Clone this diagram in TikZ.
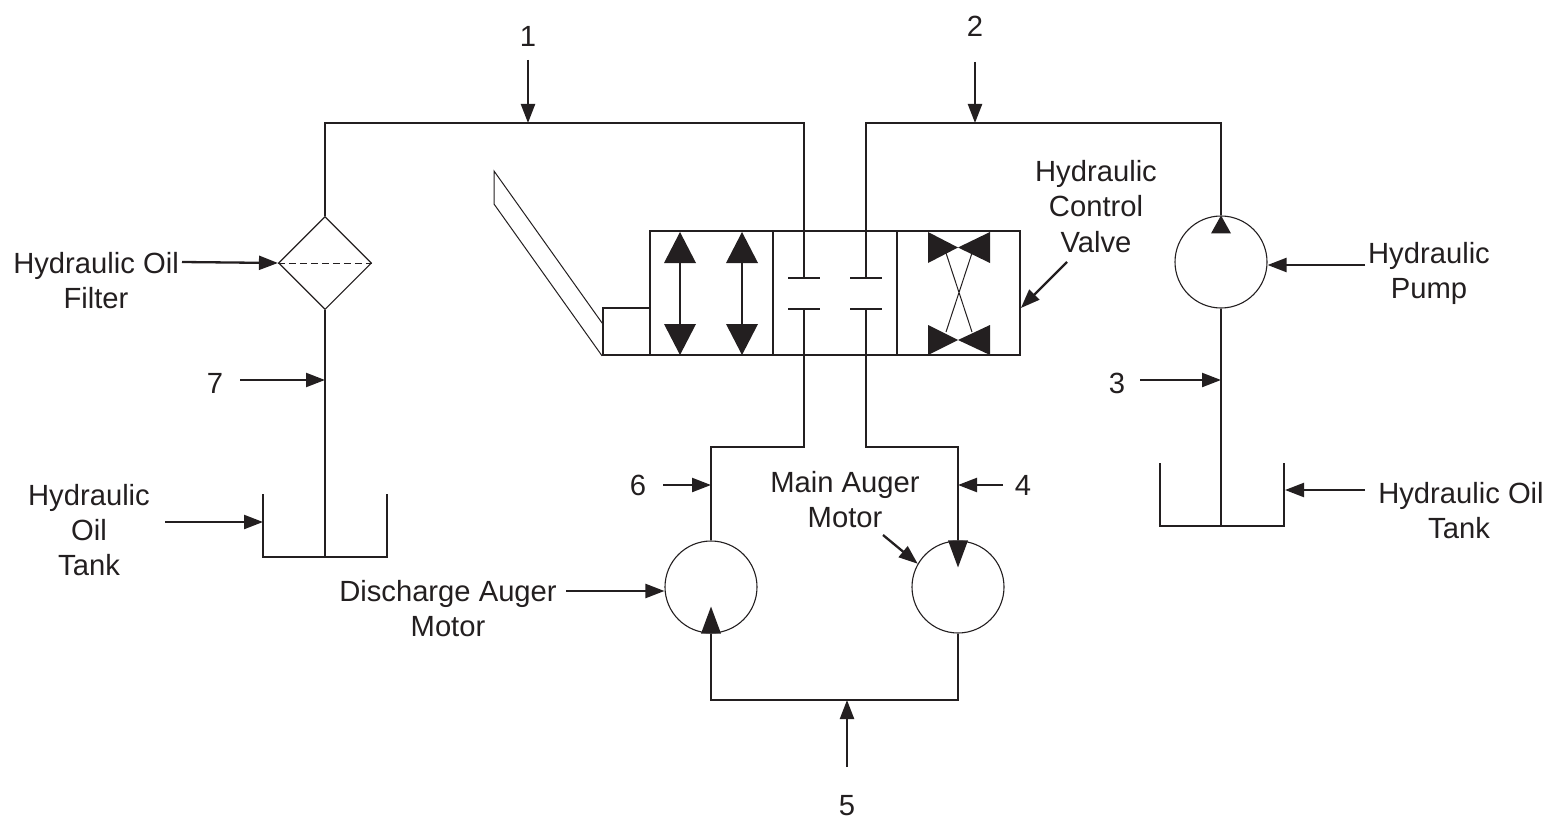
\documentclass[tikz,border=0pt]{standalone}
\usepackage{fontspec}
\setmainfont{Liberation Sans}
\usetikzlibrary{arrows.meta,shapes.geometric}
\definecolor{ink}{HTML}{231F20}
\begin{document}
\begin{tikzpicture}[x=1pt,y=-1pt,
  pipe/.style={draw=ink,line width=1.8pt},
  thinline/.style={draw=ink,line width=1pt},
  callout/.style={draw=ink,line width=2.3pt,-{Triangle[length=19pt,width=14pt]}},
  lbl/.style={text=ink,font=\fontsize{29.2}{34}\selectfont,inner sep=0pt,anchor=base},
  unit/.style={circle,draw=ink,line width=1.1pt,minimum size=92pt,inner sep=0pt},
]
\useasboundingbox (0,0) rectangle (1544,821);

% ---------- components ----------
\node[diamond,draw=ink,line width=1.1pt,minimum width=93pt,minimum height=93pt,inner sep=0pt,aspect=1] (filter) at (325,263) {};
\draw[ink,line width=1pt,dash pattern=on 7pt off 4pt] (filter.west) -- (filter.east);

\node[unit] (pump) at (1221,262) {};
\node[unit] (dmotor) at (711,587) {};
\node[unit] (mmotor) at (958,587) {};

\fill[ink] (pump.north) -- ++(-10,18) -- ++(20,0) -- cycle;
\fill[ink] (dmotor.south) ++(-10,0) -- ++(20,0) -- ++(-10,-27) -- cycle;
\fill[ink] (mmotor.north) ++(-10,0) -- ++(20,0) -- ++(-10,27) -- cycle;

% valve
\node[draw=ink,line width=1.8pt,minimum width=370pt,minimum height=124pt,inner sep=0pt] (valve) at (835,293) {};
\draw[pipe] (773,231) -- (773,355);
\draw[pipe] (897,231) -- (897,355);
\node[draw=ink,line width=1.8pt,minimum width=47pt,minimum height=47pt,inner sep=0pt] (actuator) at (626.5,331.5) {};
\draw[thinline] (actuator.north west |- 0,323) -- (494,171) -- (494,204) -- (actuator.south west);

% valve block 1: double arrows
\foreach \x in {680,742}{
  \fill[ink] (\x,232) -- (\x-16,263) -- (\x+16,263) -- cycle;
  \fill[ink] (\x,355) -- (\x-16,324) -- (\x+16,324) -- cycle;
  \draw[pipe] (\x,262) -- (\x,325);
}
% valve block 2: blocked ports
\coordinate (p1u) at (804,278);
\coordinate (p1l) at (804,309);
\coordinate (p2u) at (866,278);
\coordinate (p2l) at (866,309);
\draw[pipe] (788,278) -- (820,278) (788,309) -- (820,309);
\draw[pipe] (850,278) -- (882,278) (850,309) -- (882,309);
% valve block 3: crossed
\fill[ink] (928,232) -- (958,247.5) -- (928,263) -- cycle;
\fill[ink] (990,232) -- (958,247.5) -- (990,263) -- cycle;
\fill[ink] (928,325) -- (958,340) -- (928,355) -- cycle;
\fill[ink] (990,325) -- (958,340) -- (990,355) -- cycle;
\draw[thinline] (946,253) -- (972,332) (972,253) -- (946,332);

% tanks
\coordinate (tankL) at (325,557);
\coordinate (tankR) at (1221,526);
\draw[pipe] (263,494) |- (tankL) -| (387,494);
\draw[pipe] (1160,463) |- (tankR) -| (1284,463);

% ---------- pipes ----------
\coordinate (c1) at (804,123);
\coordinate (c2) at (866,123);
\coordinate (c6) at (711,447);
\coordinate (c4) at (958,447);
\coordinate (c5) at (847,700);
\draw[pipe] (filter.north) |- (c1) -- (p1u);
\draw[pipe] (p2u) -- (c2) -| (pump.north);
\draw[pipe] (p1l) |- (c6) -- (dmotor.north);
\draw[pipe] (p2l) |- (c4) -- (mmotor.north);
\draw[pipe] (dmotor.south) |- (c5) -| (mmotor.south);
\draw[pipe] (filter.south) -- (tankL);
\draw[pipe] (pump.south) -- (tankR);

% ---------- callouts ----------
\coordinate (a1) at (528,60);
\coordinate (a2) at (975,62);
\coordinate (a7) at (240,380);
\coordinate (a3) at (1140,380);
\coordinate (a6) at (663,485);
\coordinate (a4) at (1003,485);
\coordinate (a5) at (847,767);
\coordinate (af) at (182,262);
\coordinate (av) at (1067,262);
\coordinate (ap) at (1365,265);
\coordinate (atl) at (165,522);
\coordinate (atr) at (1365,490);
\coordinate (ad) at (566,591);
\coordinate (am) at (883,535);

\draw[callout] (a1) -- (a1 |- c1);
\draw[callout] (a2) -- (a2 |- c2);
\draw[callout] (a7) -- (a7 -| filter.south);
\draw[callout] (a3) -- (a3 -| pump.south);
\draw[callout] (a6) -- (a6 -| dmotor.north);
\draw[callout] (a4) -- (a4 -| mmotor.north);
\draw[callout] (a5) -- (a5 |- c5);
\draw[callout] (af) -- (filter.west);
\draw[callout] (av) -- ([yshift=-15pt]valve.east);
\draw[callout] (ap) -- (ap -| pump.east);
\draw[callout] (atl) -- (263,522);
\draw[callout] (atr) -- (1285,490);
\draw[callout] (ad) -- (ad -| dmotor.west);
\draw[callout] (am) -- (mmotor.150);

% ---------- labels ----------
\node[lbl] (n1) at (528,47) {1};
\node[lbl] (n2) at (975,37) {2};
\node[lbl] (n7) at (215,393) {7};
\node[lbl] (n3) at (1117,393) {3};
\node[lbl] (n6) at (638,495) {6};
\node[lbl] (n4) at (1023,495) {4};
\node[lbl] (n5) at (847,815) {5};

\node[lbl,anchor=base east] (lf1) at (179,273) {Hydraulic Oil};
\node[lbl] (lf2) at (96,308) {Filter};

\node[lbl] (lv1) at (1096,182) {Hydraulic};
\node[lbl] (lv2) at (1096,217) {Control};
\node[lbl] (lv3) at (1096,252) {Valve};

\node[lbl] (lp1) at (1429,263) {Hydraulic};
\node[lbl] (lp2) at (1429,298) {Pump};

\node[lbl] (lt1) at (89,505) {Hydraulic};
\node[lbl] (lt2) at (89,540) {Oil};
\node[lbl] (lt3) at (89,575) {Tank};

\node[lbl] (lr1) at (1461,503) {Hydraulic Oil};
\node[lbl] (lr2) at (1459,538) {Tank};

\node[lbl] (lm1) at (845,492) {Main Auger};
\node[lbl] (lm2) at (845,527) {Motor};

\node[lbl] (ld1) at (448,601) {Discharge Auger};
\node[lbl] (ld2) at (448,636) {Motor};
\end{tikzpicture}
\end{document}
